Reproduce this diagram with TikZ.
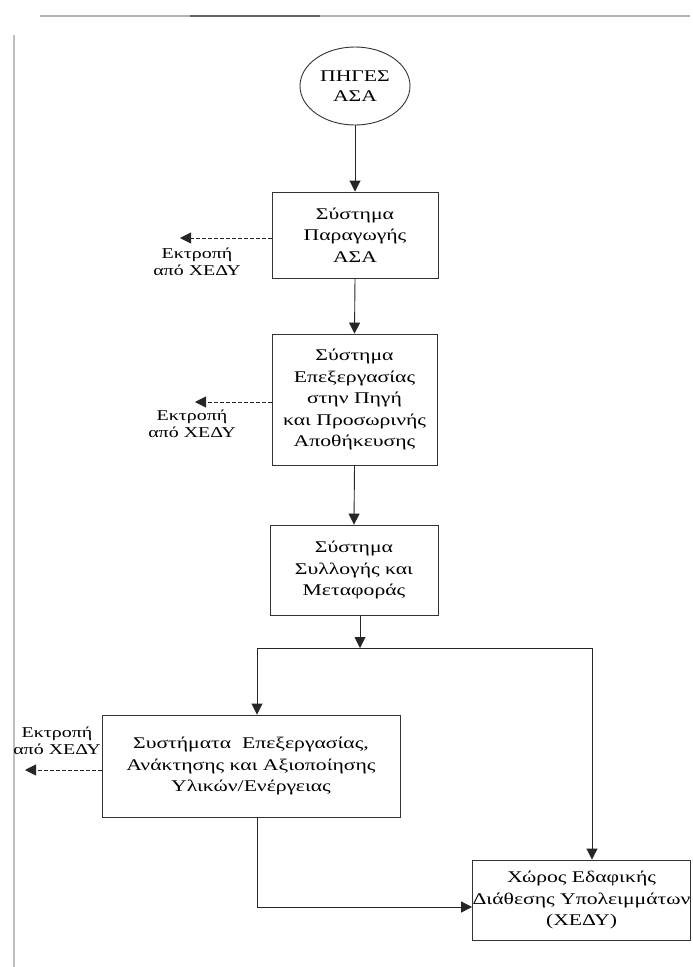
\documentclass[tikz,border=0pt]{standalone}
\usepackage{fontspec}
\setmainfont[FakeStretch=1.33]{Liberation Serif}
\usetikzlibrary{arrows.meta,shapes.geometric}
\begin{document}
\begin{tikzpicture}[x=1pt,y=-1pt,
  box/.style={draw=black!80,line width=0.9pt,rectangle,inner sep=0pt,align=center,
     font=\fontsize{16.3}{21.5}\selectfont},
  lbl/.style={align=center,inner sep=0pt,font=\fontsize{15}{17}\selectfont},
  arr/.style={draw=black!85,line width=0.9pt,-{Triangle[width=11pt,length=11pt]}},
  darr/.style={arr,dashed,dash pattern=on 4pt off 2pt},
  ln/.style={draw=black!85,line width=0.9pt}]
\useasboundingbox (0,0) rectangle (693,967);
\fill[white] (0,0) rectangle (693,967);
% scan edge
\draw[black!25,line width=1.2pt] (14,35) -- (14,967);
\draw[black!30,line width=1.2pt] (40,16) -- (690,16);
\draw[black!60,line width=1.5pt] (190,16) -- (320,16);
% nodes
\node[ellipse,draw=black!80,line width=0.9pt,minimum width=110pt,minimum height=78pt,inner sep=0pt,align=center,font=\fontsize{16.3}{20}\selectfont] (src) at (355,86) {ΠΗΓΕΣ\\ΑΣΑ};
\node[box,minimum width=166pt,minimum height=86pt] (b1) at (355,235) {Σύστημα\\Παραγωγής\\ΑΣΑ};
\node[box,minimum width=165pt,minimum height=131pt] (b2) at (354.5,399.5) {Σύστημα\\Επεξεργασίας\\στην Πηγή\\και Προσωρινής\\Αποθήκευσης};
\node[box,minimum width=168pt,minimum height=90pt] (b3) at (354,570) {Σύστημα\\Συλλογής και\\Μεταφοράς};
\node[box,minimum width=298pt,minimum height=102pt] (b4) at (251,766) {Συστήματα~ Επεξεργασίας,\\Ανάκτησης και Αξιοποίησης\\Υλικών/Ενέργειας};
\node[box,minimum width=217pt,minimum height=80pt] (b5) at (581.5,900) {Χώρος Εδαφικής\\Διάθεσης Υπολειμμάτων\\(ΧΕΔΥ)};
% labels
\node[lbl] (l1) at (197,262) {Εκτροπή\\από ΧΕΔΥ};
\node[lbl] (l2) at (192,424) {Εκτροπή\\από ΧΕΔΥ};
\node[lbl] (l3) at (57,741) {Εκτροπή\\από ΧΕΔΥ};
% coordinates
\coordinate (d1) at (180,238);
\coordinate (d2) at (195,402);
\coordinate (d3) at (25,770);
\coordinate (split) at (360,648);
\coordinate (sl) at (257,648);
\coordinate (sr) at (592,648);
\coordinate (bend) at (257,907);
% connectors
\draw[arr] (src.south) -- (b1.north);
\draw[arr] (b1.south) -- (b2.north);
\draw[arr] (b2.south) -- (b3.north);
\draw[arr] (b3.south -| split) -- (split);
\draw[ln] (sl) -- (sr);
\draw[arr] (sl) -- (b4.north -| sl);
\draw[arr] (sr) -- (b5.north -| sr);
\draw[ln] (b4.south -| bend) -- (bend);
\draw[arr] (bend) -- (b5.west |- bend);
\draw[darr] (b1.west |- d1) -- (d1);
\draw[darr] (b2.west |- d2) -- (d2);
\draw[darr] (b4.west |- d3) -- (d3);
\end{tikzpicture}
\end{document}
